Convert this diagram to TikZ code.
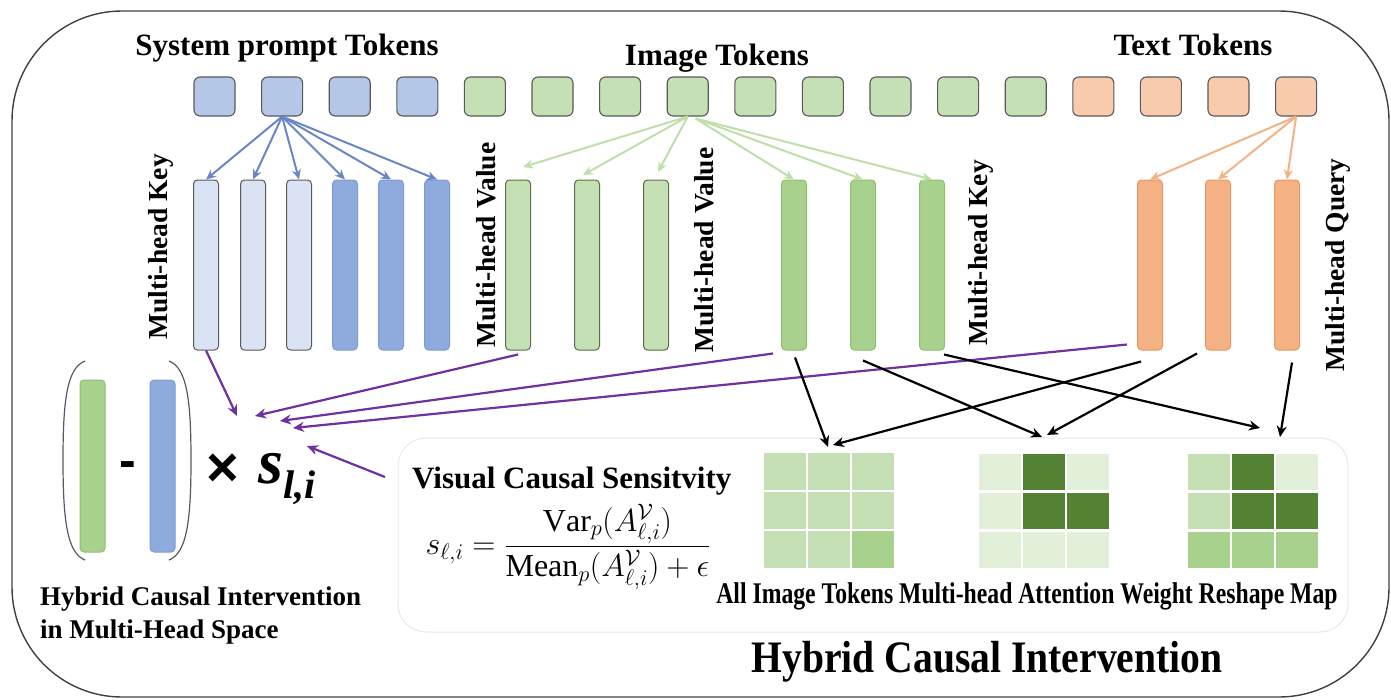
\documentclass[tikz,border=0pt]{standalone}
\usepackage{fix-cm}
\usepackage{amsmath}
\usepackage{graphicx}
\usepackage{fontspec}
\setmainfont{Liberation Serif}
\newfontfamily\arialfont{Liberation Sans}
\usetikzlibrary{arrows.meta,calc}
\definecolor{frameC}{HTML}{404040}
\definecolor{tokB}{HTML}{B4C7E7}
\definecolor{tokG}{HTML}{C5E0B4}
\definecolor{tokO}{HTML}{F8CBAD}
\definecolor{edgeC}{HTML}{595959}
\definecolor{barBL}{HTML}{DAE3F3}
\definecolor{barBD}{HTML}{8FAADC}
\definecolor{barBDe}{HTML}{7F9BD3}
\definecolor{barGL}{HTML}{C5E0B4}
\definecolor{barGLe}{HTML}{5A7048}
\definecolor{barGD}{HTML}{A9D18E}
\definecolor{barGDe}{HTML}{8CBF6E}
\definecolor{barO}{HTML}{F4B183}
\definecolor{barOe}{HTML}{E59A63}
\definecolor{arrB}{HTML}{6A86C6}
\definecolor{arrG}{HTML}{BFDFA9}
\definecolor{arrO}{HTML}{F4B183}
\definecolor{arrP}{HTML}{7030A0}
\definecolor{cL}{HTML}{E2F0D9}
\definecolor{cM}{HTML}{C5E0B4}
\definecolor{cH}{HTML}{A9D18E}
\definecolor{cD}{HTML}{548235}
\begin{document}
\begin{tikzpicture}[x=1pt,y=-1pt,
  tok/.style={draw=edgeC, line width=1.1pt, rounded corners=6pt, minimum width=41pt, minimum height=39pt, inner sep=0pt},
  bar/.style={line width=1pt, rounded corners=4pt, minimum width=25pt, minimum height=170pt, inner sep=0pt},
  lightblue/.style={bar, fill=barBL, draw=edgeC},
  darkblue/.style={bar, fill=barBD, draw=barBDe},
  lightgreen/.style={bar, fill=barGL, draw=barGLe},
  darkgreen/.style={bar, fill=barGD, draw=barGDe},
  orangebar/.style={bar, fill=barO, draw=barOe},
  lab/.style={font=\fontsize{31}{36}\selectfont\bfseries, inner sep=0pt},
  vlab/.style={font=\fontsize{27.5}{32}\selectfont\bfseries, rotate=90, inner sep=0pt},
  arr/.style={line width=2.2pt, -{Stealth[length=11pt,width=10pt]}},
  thinarr/.style={line width=2pt, -{Stealth[length=10pt,width=9pt]}},
  cell/.style={minimum width=41.5pt, minimum height=36.5pt, inner sep=0pt},
]
\useasboundingbox (0,0) rectangle (1391,699);
% outer frame
\draw[draw=frameC, line width=1.4pt, rounded corners=110pt] (12,11) rectangle (1389,697);
% lower panel
\node[draw=black!9, fill=white, line width=1pt, rounded corners=28pt, minimum width=950pt, minimum height=194pt, inner sep=0pt] (panel) at (873,535) {};

% tokens
\foreach \i in {0,...,3} \node[tok, fill=tokB] (t\i) at ({214.5+67.6*\i},96.5) {};
\foreach \i in {4,...,12} \node[tok, fill=tokG] (t\i) at ({214.5+67.6*\i},96.5) {};
\foreach \i in {13,...,16} \node[tok, fill=tokO] (t\i) at ({214.5+67.6*\i},96.5) {};

% token labels
\node[lab, anchor=base] (lsys) at (287,55) {System prompt Tokens};
\node[lab, anchor=base] (limg) at (717,65) {Image Tokens};
\node[lab, anchor=base] (ltxt) at (1193,55) {Text Tokens};

% bars
\node[lightblue] (bk1) at (206,265) {};
\node[lightblue] (bk2) at (253,265) {};
\node[lightblue] (bk3) at (299,265) {};
\node[darkblue] (bk4) at (345,265) {};
\node[darkblue] (bk5) at (391,265) {};
\node[darkblue] (bk6) at (437,265) {};
\node[lightgreen] (gv1) at (518,265) {};
\node[lightgreen] (gv2) at (587,265) {};
\node[lightgreen] (gv3) at (656,265) {};
\node[darkgreen] (gk1) at (794,265) {};
\node[darkgreen] (gk2) at (863,265) {};
\node[darkgreen] (gk3) at (932,265) {};
\node[orangebar] (oq1) at (1150,265) {};
\node[orangebar] (oq2) at (1218,265) {};
\node[orangebar] (oq3) at (1287,265) {};

% vertical labels
\node[vlab] (vk1) at (161,247) {Multi-head Key};
\node[vlab] (vv1) at (486,245) {Multi-head Value};
\node[vlab] (vv2) at (704,250) {Multi-head Value};
\node[vlab] (vk2) at (981,253) {Multi-head Key};
\node[vlab] (vq) at (1338,265) {Multi-head Query};

% token -> bar arrows
\foreach \i in {1,...,6} \draw[thinarr, draw=arrB] (t1.south) -- (bk\i.north);
\coordinate (gvt1) at (523,167);
\coordinate (gvt2) at (583,175);
\coordinate (gvt3) at (658,172);
\foreach \i in {1,2,3} \draw[thinarr, draw=arrG] (t7.south) -- (gvt\i);
\coordinate (gks) at ($(t7.south)+(8,2)$);
\foreach \i in {1,2,3} \draw[thinarr, draw=arrG] (gks) -- (gk\i.north);
\foreach \i in {1,2,3} \draw[thinarr, draw=arrO] (t16.south) -- (oq\i.north);

% purple arrows
\coordinate (pt1) at (237,416);
\coordinate (pt2) at (255,416);
\coordinate (pt3) at (280,421);
\coordinate (pt4) at (293,428);
\coordinate (pt5) at (307,446);
\coordinate (ps5) at (385,477);
\draw[arr, draw=arrP] (bk1.south) -- (pt1);
\draw[arr, draw=arrP] ($(gv1.south)+(0,4)$) -- (pt2);
\draw[arr, draw=arrP] ($(gk1.south)+(-21,3)$) -- (pt3);
\draw[arr, draw=arrP] ($(oq1.south)+(-23,-6)$) -- (pt4);
\draw[arr, draw=arrP] (ps5) -- (pt5);

% grids
\foreach \c/\r/\col in {0/0/cM,1/0/cM,2/0/cM,0/1/cM,1/1/cM,2/1/cM,0/2/cM,1/2/cM,2/2/cH}
  \node[cell, fill=\col] (ga\r\c) at ({784.75+44*\c},{471.25+39*\r}) {};
\foreach \c/\r/\col in {0/0/cL,1/0/cD,2/0/cL,0/1/cL,1/1/cD,2/1/cD,0/2/cL,1/2/cL,2/2/cL}
  \node[cell, fill=\col] (gb\r\c) at ({999.75+44*\c},{472+39*\r}) {};
\foreach \c/\r/\col in {0/0/cM,1/0/cD,2/0/cL,0/1/cM,1/1/cD,2/1/cD,0/2/cH,1/2/cH,2/2/cH}
  \node[cell, fill=\col] (gc\r\c) at ({1208.75+44*\c},{472+39*\r}) {};

% black arrows
\coordinate (b1) at (828,447);
\coordinate (b4) at (833,445);
\coordinate (b2) at (1042,437);
\coordinate (b5) at (1047,435);
\coordinate (b3) at (1260,428);
\coordinate (b6) at (1280,437);
\draw[arr] ($(gk1.south)+(1,7)$) -- (b1);
\draw[arr] ($(gk2.south)+(0,10)$) -- (b2);
\draw[arr] ($(gk3.south)+(12,4)$) -- (b3);
\draw[arr] ($(oq1.south)+(-9,11)$) -- (b4);
\draw[arr] ($(oq2.south)+(-21,3)$) -- (b5);
\draw[arr] ($(oq3.south)+(5,12)$) -- (b6);

% panel texts
\node[font=\fontsize{31}{36}\selectfont\bfseries, anchor=base west, inner sep=0pt] (vcs) at (412,488) {Visual Causal Sensitvity};
\node[font=\fontsize{32}{38}\selectfont, inner sep=0pt] (formula) at (568,547)
  {$s_{\ell,i}=\dfrac{\mathrm{Var}_p(A^{\mathcal{V}}_{\ell,i})}{\mathrm{Mean}_p(A^{\mathcal{V}}_{\ell,i})+\epsilon}$};
\node[font=\fontsize{30}{34}\selectfont\bfseries, anchor=base, inner sep=0pt] (gcap) at (1027,603)
  {\scalebox{0.79}[1]{All Image Tokens Multi-head Attention Weight Reshape Map}};
\node[font=\fontsize{45}{50}\selectfont\bfseries, anchor=base, inner sep=0pt] (title) at (987,672)
  {\scalebox{0.88}[1]{Hybrid Causal Intervention}};

% left formula
\draw[draw=edgeC, line width=1.2pt] (85,361) .. controls (67,368) and (63,400) .. (63,460) .. controls (63,520) and (67,553) .. (85,560);
\draw[draw=edgeC, line width=1.2pt] (169,361) .. controls (187,368) and (191,400) .. (191,460) .. controls (191,520) and (187,553) .. (169,560);
\node[bar, fill=barGD, draw=barGDe, minimum height=172pt] (lgb) at (92.5,466) {};
\node[bar, fill=barBD, draw=barBDe, minimum height=172pt] (lbb) at (162.5,466) {};
\node[font=\fontsize{50}{50}\selectfont\arialfont\bfseries, inner sep=0pt] (minus) at (128,470) {-};
\node[font=\fontsize{56}{56}\selectfont\arialfont\bfseries, inner sep=0pt] (times) at (223,470) {×};
\node[anchor=base west, inner sep=0pt] (sli) at (258,483)
  {{\fontsize{64}{66}\selectfont\bfseries\itshape s}\raisebox{-15pt}{\fontsize{40}{42}\selectfont\bfseries\itshape l,i}};

\node[font=\fontsize{27}{33}\selectfont\bfseries, anchor=base west, inner sep=0pt] (hc1) at (40,605) {Hybrid Causal Intervention};
\node[font=\fontsize{27}{33}\selectfont\bfseries, anchor=base west, inner sep=0pt] (hc2) at (40,638) {in Multi-Head Space};
\end{tikzpicture}
\end{document}
